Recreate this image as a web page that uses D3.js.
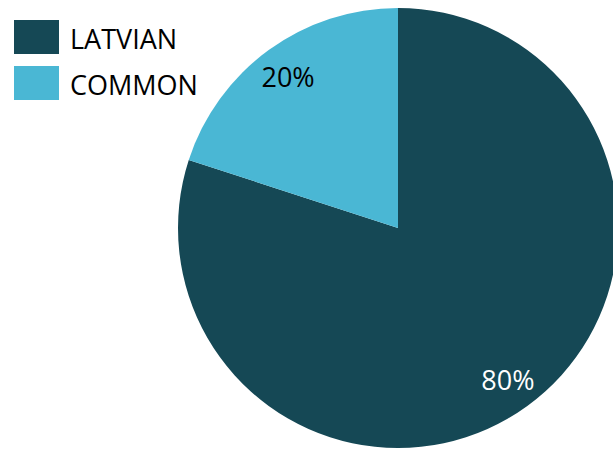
<!DOCTYPE html>
<html><head><meta charset="utf-8">
<script src="https://cdn.jsdelivr.net/npm/d3@7"></script>
<style>html,body{margin:0;padding:0;background:#fff;overflow:hidden}</style>
</head><body>
<svg id="chart" width="613" height="449"></svg>
<script>
const categories = ["LATVIAN", "COMMON"];
const values = [80, 20];
const colors = ["#154855", "#4AB7D4"];
const labelColors = ["#ffffff", "#000000"];

const svg = d3.select("#chart");
const cx = 398, cy = 228, R = 220;
const font = "'Open Sans', 'Noto Sans', sans-serif";

const pie = d3.pie().sort(null).value(d => d.v);
const data = pie(categories.map((c, i) => ({c, v: values[i], i})));
const arc = d3.arc().innerRadius(0).outerRadius(R);
const labelArc = d3.arc().innerRadius(R * 0.85).outerRadius(R * 0.85);

const g = svg.append("g").attr("transform", `translate(${cx},${cy})`);
g.selectAll("path").data(data).join("path")
  .attr("d", arc).attr("fill", d => colors[d.data.i]);
g.selectAll("text").data(data).join("text")
  .attr("transform", d => `translate(${labelArc.centroid(d)})`)
  .attr("text-anchor", "middle").attr("dominant-baseline", "central")
  .attr("font-family", font).attr("font-size", 27)
  .attr("fill", d => labelColors[d.data.i])
  .text(d => d.data.v + "%");

const leg = svg.append("g");
categories.forEach((c, i) => {
  const y = 20 + i * 46;
  leg.append("rect").attr("x", 14).attr("y", y).attr("width", 45).attr("height", 34).attr("fill", colors[i]);
  leg.append("text").attr("x", 70).attr("y", y + 18).attr("dominant-baseline", "central")
    .attr("font-family", font).attr("font-size", 27).attr("fill", "#000").text(c);
});
</script>
</body></html>
